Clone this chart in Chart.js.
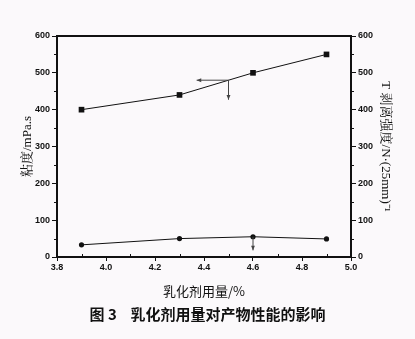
<!DOCTYPE html>
<html>
<head>
<meta charset="utf-8">
<script src="https://cdn.jsdelivr.net/npm/chart.js@4"></script>
<style>
  html, body { margin: 0; padding: 0; background: #fbf9fb; }
  #wrap { width: 415px; height: 339px; }
</style>
</head>
<body>
<div id="wrap"><canvas id="c" width="415" height="339"></canvas></div>
<script>
// emulsifier dosage, %
var dosage = [3.9, 4.3, 4.6, 4.9];
// viscosity, mPa.s (left axis, squares)
var viscosity = [400, 440, 500, 550];
// T-peel strength, N/(25mm) (right axis, circles)
var peel = [33, 50, 55, 49];
var xTicks = [3.8, 4.0, 4.2, 4.4, 4.6, 4.8, 5.0];
var yTicks = [0, 100, 200, 300, 400, 500, 600];

// arrows marking which axis each curve belongs to: [x1, y1, x2, y2, axis]
var arrows = [
  [4.5, 480, 4.37, 480, 'y'],
  [4.5, 480, 4.5, 427, 'y'],
  [4.6, 55, 4.6, 18, 'y1']
];

var tickFont = { family: 'Liberation Sans', size: 9, weight: 'bold' };
var serifCJK = 'Liberation Serif, Noto Serif CJK SC, Noto Sans CJK SC';

function headTo(ctx, x1, y1, x2, y2) {
  var a = Math.atan2(y2 - y1, x2 - x1);
  ctx.beginPath();
  ctx.moveTo(x1, y1);
  ctx.lineTo(x2, y2);
  ctx.stroke();
  ctx.beginPath();
  ctx.moveTo(x2, y2);
  ctx.lineTo(x2 - 5 * Math.cos(a - 0.4), y2 - 5 * Math.sin(a - 0.4));
  ctx.lineTo(x2 - 5 * Math.cos(a + 0.4), y2 - 5 * Math.sin(a + 0.4));
  ctx.closePath();
  ctx.fill();
}

var extras = {
  id: 'extras',
  afterDraw: function (chart) {
    var ctx = chart.ctx, x = chart.scales.x, area = chart.chartArea;
    ctx.save();
    ctx.strokeStyle = '#111';
    ctx.fillStyle = '#111';
    // frame: thick top line
    ctx.lineWidth = 2;
    ctx.beginPath();
    ctx.moveTo(area.left, area.top);
    ctx.lineTo(area.right, area.top);
    ctx.stroke();
    // minor ticks
    ctx.lineWidth = 1;
    for (var v = 3.9; v < 5.0; v += 0.2) {
      var px = Math.round(x.getPixelForValue(v)) + 0.5;
      ctx.beginPath();
      ctx.moveTo(px, area.bottom);
      ctx.lineTo(px, area.bottom - 3);
      ctx.stroke();
    }
    for (var m = 50; m < 600; m += 100) {
      var py = Math.round(chart.scales.y.getPixelForValue(m)) + 0.5;
      ctx.beginPath();
      ctx.moveTo(area.left - 3, py);
      ctx.lineTo(area.left, py);
      ctx.moveTo(area.right, py);
      ctx.lineTo(area.right + 3, py);
      ctx.stroke();
    }
    // axis arrows
    ctx.strokeStyle = '#444';
    ctx.fillStyle = '#444';
    arrows.forEach(function (a) {
      var s = chart.scales[a[4]];
      headTo(ctx, x.getPixelForValue(a[0]), s.getPixelForValue(a[1]),
        x.getPixelForValue(a[2]), s.getPixelForValue(a[3]));
    });
    ctx.restore();
  }
};

new Chart(document.getElementById('c'), {
  type: 'line',
  data: {
    datasets: [
      {
        data: dosage.map(function (d, i) { return { x: d, y: viscosity[i] }; }),
        yAxisID: 'y',
        borderColor: '#111',
        backgroundColor: '#111',
        borderWidth: 1,
        pointStyle: 'rect',
        pointRadius: 4,
        pointBorderWidth: 0,
        fill: false
      },
      {
        data: dosage.map(function (d, i) { return { x: d, y: peel[i] }; }),
        yAxisID: 'y1',
        borderColor: '#111',
        backgroundColor: '#111',
        borderWidth: 1,
        pointStyle: 'circle',
        pointRadius: 2.6,
        pointBorderWidth: 0,
        fill: false
      }
    ]
  },
  options: {
    responsive: false,
    animation: false,
    layout: { padding: { top: 36, left: 0, right: 0, bottom: 0 } },
    plugins: {
      legend: { display: false },
      tooltip: { enabled: false },
      title: {
        display: true,
        position: 'bottom',
        text: '图 3    乳化剂用量对产物性能的影响',
        color: '#111',
        font: { family: 'Noto Sans CJK SC', size: 15, weight: 'bold' },
        padding: { top: 4, bottom: 16 }
      }
    },
    scales: {
      x: {
        type: 'linear',
        min: 3.8, max: 5.0,
        afterBuildTicks: function (s) { s.ticks = xTicks.map(function (v) { return { value: v }; }); },
        afterFit: function (s) { s.height = 44; },
        border: { color: '#111', width: 2 },
        grid: { drawOnChartArea: false, tickLength: 4, color: '#111' },
        ticks: { color: '#111', font: tickFont, padding: 1, maxRotation: 0,
          callback: function (v) { return v.toFixed(1); } },
        title: { display: true, text: '乳化剂用量/%', color: '#111',
          font: { family: 'Noto Sans CJK SC', size: 13 }, padding: { top: 0, bottom: 2 } }
      },
      y: {
        position: 'left',
        min: 0, max: 600,
        afterBuildTicks: function (s) { s.ticks = yTicks.map(function (v) { return { value: v }; }); },
        afterFit: function (s) { s.width = 57; },
        border: { color: '#111', width: 2 },
        grid: { drawOnChartArea: false, tickLength: 5, color: '#111' },
        ticks: { color: '#111', font: tickFont, padding: 2 },
        title: { display: true, text: '粘度/mPa.s', color: '#111',
          font: { family: serifCJK, size: 13 }, padding: { top: 20, bottom: 0 } }
      },
      y1: {
        position: 'right',
        min: 0, max: 600,
        afterBuildTicks: function (s) { s.ticks = yTicks.map(function (v) { return { value: v }; }); },
        afterFit: function (s) { s.width = 64; },
        border: { color: '#111', width: 2 },
        grid: { drawOnChartArea: false, tickLength: 5, color: '#111' },
        ticks: { color: '#111', font: tickFont, padding: 2 },
        title: { display: true, text: 'T 剥离强度/N·(25mm)⁻¹', color: '#111',
          font: { family: serifCJK, size: 13 }, padding: { top: 22, bottom: 0 } }
      }
    }
  },
  plugins: [extras]
});
</script>
</body>
</html>
